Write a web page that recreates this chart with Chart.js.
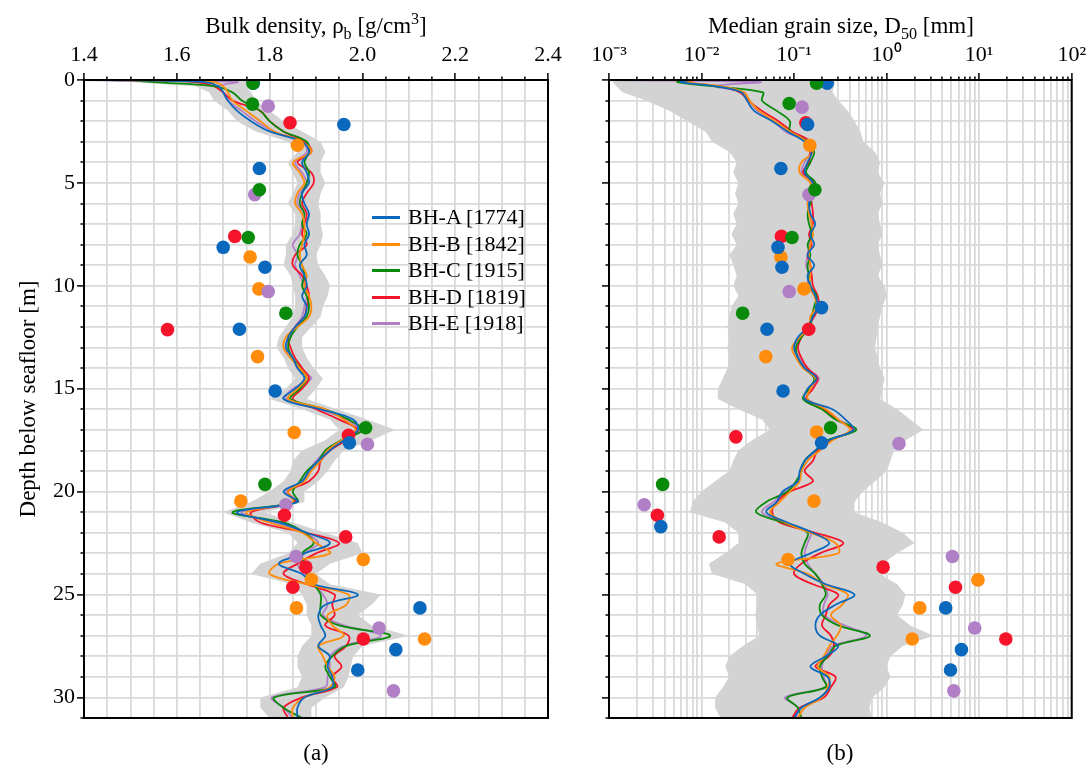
<!DOCTYPE html>
<html lang="en">
<head>
<meta charset="UTF-8">
<title>Bulk density and median grain size profiles</title>
<script src="https://cdn.jsdelivr.net/npm/chart.js"></script>
<style>
  body { margin: 0; background: #fff; font-family: "Liberation Serif", "Times New Roman", serif; color: #000; }
  #wrap { position: relative; width: 1091px; height: 778px; overflow: hidden; }
  #rho-chart { position: absolute; left: 0; top: 0; }
  #d50-chart { position: absolute; left: 570px; top: 0; }
  .axis-title { position: absolute; font-size: 23px; line-height: 26px; white-space: nowrap; transform: translateX(-50%); }
  .axis-title sub, .axis-title sup { font-size: 70%; line-height: 0; }
  .caption { position: absolute; font-size: 23px; line-height: 26px; transform: translateX(-50%); }
  #legend { position: absolute; left: 372px; top: 204px; font-size: 22px; }
  #legend .item { height: 26.5px; line-height: 26.5px; white-space: nowrap; }
  #legend .swatch { display: inline-block; width: 28px; height: 3px; vertical-align: middle; margin-right: 8px; position: relative; top: -1px; }
</style>
</head>
<body>
<div id="wrap">
  <canvas id="rho-chart" width="580" height="778"></canvas>
  <canvas id="d50-chart" width="521" height="778"></canvas>

  <div class="axis-title" style="left:316px; top:13px">Bulk density, &rho;<sub>b</sub> [g/cm<sup>3</sup>]</div>
  <div class="axis-title" style="left:841px; top:13px">Median grain size, D<sub>50</sub> [mm]</div>
  <div id="legend"></div>
  <div class="caption" style="left:316px; top:740px">(a)</div>
  <div class="caption" style="left:840px; top:740px">(b)</div>
</div>

<script>
// ---- data ----
const boreholes = ['BH-A [1774]', 'BH-B [1842]', 'BH-C [1915]', 'BH-D [1819]', 'BH-E [1918]'];
const colors = ['#0a68bd', '#ff8c0a', '#0a8a0a', '#f5142a', '#b07fc6'];

const depth = [0, 0.1, 0.3, 0.6, 1, 1.5, 2, 2.5, 3, 3.5, 4, 4.5, 5, 5.5, 6, 6.5, 7, 7.5, 8, 8.5,
  9, 9.5, 10, 10.5, 11, 11.5, 12, 12.5, 13, 13.5, 14, 14.5, 15, 15.5, 16, 16.5, 17, 17.5, 18, 18.5,
  19, 19.5, 20, 20.5, 21, 21.5, 22, 22.5, 23, 23.5, 24, 24.5, 25, 25.5, 26, 26.5, 27, 27.5, 28, 28.5,
  29, 29.5, 30, 30.5, 31];

// bulk density profiles [g/cm3]
const rhoA = [1.44, 1.66, 1.69, 1.70, 1.71, 1.73, 1.76, 1.80, 1.87, 1.885,
  1.87, 1.88, 1.885, 1.87, 1.875, 1.885, 1.88, 1.885, 1.875, 1.88,
  1.865, 1.875, 1.88, 1.87, 1.88, 1.875, 1.855, 1.84, 1.835, 1.85,
  1.86, 1.875, 1.855, 1.83, 1.91, 1.98, 1.99, 1.96, 1.93, 1.905,
  1.885, 1.87, 1.83, 1.86, 1.73, 1.82, 1.88, 1.93, 1.875, 1.82,
  1.87, 1.895, 1.99, 1.92, 1.905, 1.91, 1.92, 1.905, 1.93, 1.925,
  1.935, 1.935, 1.875, 1.86, 1.86];
const rhoB = [1.48, 1.68, 1.70, 1.71, 1.72, 1.75, 1.78, 1.81, 1.87, 1.89,
  1.85, 1.865, 1.875, 1.86, 1.855, 1.87, 1.875, 1.875, 1.87, 1.865,
  1.87, 1.88, 1.875, 1.885, 1.89, 1.885, 1.86, 1.835, 1.83, 1.845,
  1.865, 1.88, 1.86, 1.84, 1.92, 1.96, 1.985, 1.955, 1.925, 1.91,
  1.89, 1.875, 1.84, 1.85, 1.75, 1.80, 1.87, 1.90, 1.93, 1.82,
  1.80, 1.88, 1.97, 1.965, 1.925, 1.935, 1.96, 1.905, 1.915, 1.925,
  1.94, 1.93, 1.875, 1.85, 1.85];
const rhoC = [1.50, 1.55, 1.68, 1.72, 1.74, 1.78, 1.80, 1.83, 1.88, 1.885,
  1.875, 1.885, 1.88, 1.87, 1.865, 1.875, 1.87, 1.88, 1.865, 1.86,
  1.87, 1.875, 1.87, 1.88, 1.885, 1.88, 1.86, 1.845, 1.84, 1.85,
  1.865, 1.88, 1.865, 1.845, 1.92, 1.97, 2.00, 1.955, 1.92, 1.905,
  1.88, 1.865, 1.85, 1.86, 1.72, 1.83, 1.875, 1.895, 1.87, 1.875,
  1.88, 1.895, 1.91, 1.91, 1.91, 1.95, 2.06, 1.965, 1.935, 1.92,
  1.93, 1.94, 1.81, 1.83, 1.87];
const rhoD = [1.45, 1.64, 1.68, 1.70, 1.72, 1.78, 1.80, 1.83, 1.875, 1.89,
  1.86, 1.89, 1.895, 1.88, 1.87, 1.88, 1.875, 1.87, 1.88, 1.855,
  1.85, 1.87, 1.88, 1.885, 1.88, 1.875, 1.855, 1.84, 1.845, 1.855,
  1.87, 1.885, 1.87, 1.85, 1.90, 1.95, 1.99, 1.965, 1.93, 1.91,
  1.905, 1.885, 1.84, 1.855, 1.76, 1.78, 1.88, 1.95, 1.90, 1.86,
  1.83, 1.88, 1.94, 1.935, 1.94, 1.92, 1.97, 1.965, 1.94, 1.955,
  1.935, 1.945, 1.87, 1.83, 1.84];
const rhoE = [1.40, 1.73, 1.69, 1.70, 1.71, 1.74, 1.77, 1.81, 1.87, 1.88,
  1.855, 1.87, 1.88, 1.865, 1.86, 1.875, 1.87, 1.865, 1.85, 1.86,
  1.855, 1.865, 1.875, 1.88, 1.875, 1.87, 1.855, 1.845, 1.835, 1.85,
  1.86, 1.89, 1.85, 1.835, 1.91, 1.965, 1.995, 1.96, 1.925, 1.90,
  1.885, 1.87, 1.835, 1.855, 1.74, 1.81, 1.875, 1.905, 1.875, 1.86,
  1.875, 1.895, 1.915, 1.925, 1.915, 1.96, 2.04, 1.96, 1.93, 1.93,
  1.925, 1.92, 1.805, 1.83, 1.85];
// grey envelope of all CPT-based profiles
const rhoBandLo = [1.40, 1.50, 1.64, 1.67, 1.68, 1.71, 1.73, 1.77, 1.84, 1.86,
  1.84, 1.85, 1.86, 1.85, 1.84, 1.855, 1.855, 1.85, 1.835, 1.835,
  1.83, 1.845, 1.85, 1.855, 1.855, 1.85, 1.835, 1.82, 1.815, 1.83,
  1.84, 1.855, 1.835, 1.80, 1.87, 1.93, 1.95, 1.92, 1.87, 1.85,
  1.845, 1.83, 1.80, 1.76, 1.70, 1.76, 1.84, 1.86, 1.84, 1.78,
  1.76, 1.85, 1.87, 1.88, 1.88, 1.89, 1.89, 1.87, 1.86, 1.86,
  1.87, 1.86, 1.78, 1.78, 1.80];
const rhoBandHi = [1.76, 1.76, 1.75, 1.76, 1.77, 1.80, 1.83, 1.87, 1.91, 1.92,
  1.91, 1.91, 1.92, 1.91, 1.905, 1.91, 1.91, 1.915, 1.91, 1.90,
  1.905, 1.92, 1.93, 1.925, 1.915, 1.91, 1.89, 1.87, 1.87, 1.88,
  1.895, 1.915, 1.90, 1.88, 1.945, 2.01, 2.07, 2.02, 1.96, 1.94,
  1.925, 1.905, 1.875, 1.875, 1.79, 1.85, 1.92, 1.99, 2.00, 1.93,
  1.90, 1.93, 2.04, 2.02, 1.99, 2.02, 2.10, 2.00, 1.98, 1.975,
  1.97, 1.96, 1.92, 1.89, 1.89];

// median grain size profiles [mm]
const d50A = [0.0075, 0.0060, 0.014, 0.027, 0.031, 0.037, 0.058, 0.085, 0.13, 0.155,
  0.14, 0.13, 0.16, 0.155, 0.145, 0.15, 0.17, 0.15, 0.165, 0.14,
  0.165, 0.14, 0.15, 0.17, 0.18, 0.16, 0.14, 0.11, 0.10, 0.11,
  0.13, 0.175, 0.14, 0.13, 0.26, 0.36, 0.44, 0.24, 0.17, 0.13,
  0.115, 0.11, 0.075, 0.065, 0.05, 0.085, 0.16, 0.24, 0.15, 0.09,
  0.13, 0.22, 0.45, 0.28, 0.19, 0.17, 0.19, 0.30, 0.22, 0.15,
  0.23, 0.24, 0.19, 0.12, 0.10];
const d50B = [0.0085, 0.0065, 0.016, 0.029, 0.033, 0.042, 0.062, 0.09, 0.135, 0.16,
  0.12, 0.115, 0.15, 0.145, 0.14, 0.145, 0.155, 0.16, 0.15, 0.145,
  0.15, 0.15, 0.145, 0.165, 0.175, 0.15, 0.145, 0.115, 0.095, 0.105,
  0.125, 0.17, 0.15, 0.14, 0.22, 0.30, 0.40, 0.26, 0.19, 0.14,
  0.12, 0.115, 0.09, 0.07, 0.055, 0.08, 0.15, 0.28, 0.30, 0.065,
  0.14, 0.21, 0.38, 0.33, 0.25, 0.32, 0.29, 0.24, 0.21, 0.18,
  0.24, 0.23, 0.20, 0.13, 0.11];
const d50C = [0.0070, 0.0055, 0.013, 0.046, 0.045, 0.065, 0.09, 0.09, 0.14, 0.165,
  0.15, 0.135, 0.17, 0.16, 0.15, 0.14, 0.145, 0.155, 0.14, 0.15,
  0.14, 0.145, 0.15, 0.175, 0.165, 0.155, 0.15, 0.12, 0.105, 0.11,
  0.13, 0.165, 0.145, 0.125, 0.20, 0.28, 0.47, 0.23, 0.17, 0.13,
  0.12, 0.105, 0.085, 0.05, 0.039, 0.075, 0.14, 0.13, 0.12, 0.13,
  0.17, 0.20, 0.22, 0.19, 0.20, 0.30, 0.66, 0.28, 0.23, 0.19,
  0.20, 0.22, 0.085, 0.11, 0.12];
const d50D = [0.0080, 0.0060, 0.015, 0.026, 0.032, 0.045, 0.068, 0.095, 0.15, 0.15,
  0.145, 0.125, 0.165, 0.15, 0.155, 0.16, 0.16, 0.145, 0.155, 0.14,
  0.15, 0.155, 0.16, 0.18, 0.185, 0.165, 0.14, 0.12, 0.11, 0.12,
  0.14, 0.18, 0.16, 0.135, 0.21, 0.29, 0.43, 0.25, 0.18, 0.16,
  0.13, 0.16, 0.09, 0.065, 0.058, 0.07, 0.17, 0.34, 0.19, 0.12,
  0.10, 0.16, 0.30, 0.24, 0.22, 0.20, 0.25, 0.27, 0.24, 0.17,
  0.28, 0.25, 0.21, 0.115, 0.095];
const d50E = [0.0011, 0.043, 0.014, 0.028, 0.033, 0.040, 0.060, 0.08, 0.135, 0.15,
  0.13, 0.12, 0.155, 0.15, 0.14, 0.15, 0.155, 0.15, 0.145, 0.14,
  0.135, 0.145, 0.14, 0.17, 0.18, 0.16, 0.145, 0.115, 0.10, 0.115,
  0.135, 0.185, 0.15, 0.14, 0.22, 0.30, 0.45, 0.24, 0.175, 0.14,
  0.12, 0.11, 0.08, 0.06, 0.045, 0.08, 0.15, 0.14, 0.13, 0.14,
  0.17, 0.21, 0.23, 0.21, 0.21, 0.35, 0.60, 0.26, 0.22, 0.20,
  0.21, 0.22, 0.08, 0.11, 0.105];
const d50BandLo = [0.00105, 0.0011, 0.0012, 0.0014, 0.0025, 0.0045, 0.007, 0.011, 0.013, 0.020,
  0.024, 0.022, 0.025, 0.023, 0.025, 0.022, 0.024, 0.021, 0.024, 0.020,
  0.022, 0.024, 0.022, 0.025, 0.021, 0.020, 0.019, 0.020, 0.019, 0.020,
  0.019, 0.017, 0.015, 0.015, 0.025, 0.045, 0.055, 0.035, 0.025, 0.022,
  0.020, 0.014, 0.010, 0.008, 0.0075, 0.018, 0.025, 0.025, 0.018, 0.012,
  0.013, 0.030, 0.040, 0.040, 0.038, 0.040, 0.042, 0.028, 0.020, 0.018,
  0.020, 0.017, 0.014, 0.014, 0.016];
const d50BandHi = [0.25, 0.28, 0.27, 0.26, 0.30, 0.38, 0.45, 0.52, 0.56, 0.75,
  0.85, 0.80, 0.95, 0.85, 0.90, 0.80, 0.85, 0.90, 0.80, 0.85,
  0.90, 0.80, 0.95, 1.0, 0.90, 0.85, 0.80, 0.78, 0.75, 0.80,
  0.85, 0.95, 0.90, 0.85, 1.3, 1.8, 2.5, 1.6, 1.2, 1.1,
  1.0, 0.75, 0.55, 0.45, 0.45, 0.9, 1.5, 2.0, 1.3, 0.90,
  0.85, 1.3, 1.6, 1.5, 1.3, 1.8, 3.2, 1.5, 1.1, 1.0,
  1.1, 0.95, 0.70, 0.65, 0.70];

// laboratory samples: [depth m, value]
const rhoLabA = [[0.15, 1.765], [2.16, 1.96], [4.3, 1.778], [8.13, 1.70], [9.1, 1.79], [12.11, 1.735],
  [15.11, 1.812], [17.63, 1.972], [25.65, 2.124], [27.68, 2.072], [28.67, 1.99]];
const rhoLabB = [[3.17, 1.86], [8.6, 1.758], [10.15, 1.777], [13.44, 1.774], [17.13, 1.853], [20.46, 1.738],
  [23.3, 2.002], [24.27, 1.89], [25.65, 1.858], [27.16, 2.134]];
const rhoLabC = [[0.15, 1.764], [1.17, 1.763], [5.33, 1.778], [7.65, 1.754], [11.33, 1.835], [16.9, 2.007],
  [19.65, 1.79]];
const rhoLabD = [[2.08, 1.844], [7.6, 1.725], [12.13, 1.58], [17.26, 1.97], [21.15, 1.832], [22.2, 1.964],
  [23.67, 1.878], [24.65, 1.85], [27.16, 2.002]];
const rhoLabE = [[1.27, 1.797], [5.57, 1.768], [10.28, 1.797], [17.7, 2.011], [20.64, 1.835], [23.15, 1.857],
  [26.63, 2.036], [29.68, 2.067]];

const d50LabA = [[0.15, 0.228], [2.16, 0.14], [4.3, 0.072], [8.13, 0.067], [9.1, 0.074], [11.06, 0.198],
  [12.11, 0.051], [15.11, 0.076], [17.63, 0.198], [21.7, 0.00363], [25.65, 4.35], [27.68, 6.43], [28.67, 4.9]];
const d50LabB = [[3.17, 0.148], [8.6, 0.072], [10.15, 0.128], [13.44, 0.0495], [17.1, 0.175], [20.46, 0.164],
  [23.3, 0.086], [24.29, 9.7], [25.65, 2.28], [27.16, 1.89]];
const d50LabC = [[0.15, 0.175], [1.14, 0.0885], [5.33, 0.168], [7.65, 0.095], [11.33, 0.0278], [16.9, 0.248],
  [19.65, 0.0038]];
const d50LabD = [[2.08, 0.134], [7.6, 0.073], [12.11, 0.144], [17.34, 0.0235], [21.15, 0.00333], [22.2, 0.0155],
  [23.67, 0.916], [24.65, 5.55], [27.16, 19.4]];
const d50LabE = [[1.32, 0.122], [5.57, 0.145], [10.28, 0.0885], [17.67, 1.36], [20.64, 0.0024], [23.15, 5.14],
  [26.63, 8.95], [29.68, 5.32]];

// tick positions
const depthTicks = [0, 1, 2, 3, 4, 5, 6, 7, 8, 9, 10, 11, 12, 13, 14, 15, 16, 17, 18, 19, 20,
  21, 22, 23, 24, 25, 26, 27, 28, 29, 30, 31];
const rhoTicks = [1.4, 1.45, 1.5, 1.55, 1.6, 1.65, 1.7, 1.75, 1.8, 1.85, 1.9, 1.95,
  2.0, 2.05, 2.1, 2.15, 2.2, 2.25, 2.3, 2.35, 2.4];
const d50Ticks = [0.001, 0.002, 0.003, 0.004, 0.005, 0.006, 0.007, 0.008, 0.009,
  0.01, 0.02, 0.03, 0.04, 0.05, 0.06, 0.07, 0.08, 0.09,
  0.1, 0.2, 0.3, 0.4, 0.5, 0.6, 0.7, 0.8, 0.9,
  1, 2, 3, 4, 5, 6, 7, 8, 9,
  10, 20, 30, 40, 50, 60, 70, 80, 90, 100];
const d50TickLabels = { '-3': '10\u207B\u00B3', '-2': '10\u207B\u00B2', '-1': '10\u207B\u00B9',
  '0': '10\u2070', '1': '10\u00B9', '2': '10\u00B2' };

// ---- helpers ----
const serif = "'Liberation Serif', 'Times New Roman', serif";
const gridColor = '#d9d9d9';

function profile(vals) {
  return depth.map((d, i) => ({ x: vals[i], y: d }));
}
function samples(pairs) {
  return pairs.map(p => ({ x: p[1], y: p[0] }));
}

function buildDatasets(lines, lo, hi, labs) {
  const ds = [];
  // samples on top; list order = reverse drawing order
  [2, 0, 3, 4, 1].forEach(i => {
    ds.push({ type: 'scatter', data: samples(labs[i]), backgroundColor: colors[i],
      borderWidth: 0, pointRadius: 6.8, pointHoverRadius: 6.8, order: 0 });
  });
  lines.forEach((vals, i) => {
    ds.push({ type: 'line', data: profile(vals), borderColor: colors[i], borderWidth: 1.8,
      pointRadius: 0, tension: 0.35, fill: false, order: 1 });
  });
  ds.push({ type: 'line', data: profile(lo), borderWidth: 0, pointRadius: 0, tension: 0,
    fill: false, order: 2 });
  ds.push({ type: 'line', data: profile(hi), borderWidth: 0, pointRadius: 0, tension: 0,
    fill: '-1', backgroundColor: '#d3d3d3', order: 2 });
  return ds;
}

const frame = {
  id: 'frame',
  afterDatasetsDraw(chart) {
    const { ctx, chartArea: a } = chart;
    ctx.save();
    ctx.strokeStyle = '#000';
    ctx.lineWidth = 2;
    ctx.strokeRect(a.left, a.top, a.right - a.left, a.bottom - a.top);
    ctx.restore();
  }
};

function depthAxis(width, showLabels) {
  return {
    type: 'linear', min: 0, max: 31, reverse: true,
    afterBuildTicks: s => { s.ticks = depthTicks.map(v => ({ value: v })); },
    afterFit: s => { s.width = width; },
    ticks: {
      autoSkip: false, padding: 2, color: '#000', font: { family: serif, size: 22 },
      callback: v => (showLabels && v % 5 === 0) ? String(v) : ''
    },
    grid: {
      color: gridColor, lineWidth: 1.8, tickColor: '#000', tickWidth: 1.5, tickLength: 7,
      tickBorderDash: c => (c.tick && c.tick.value % 5 === 0) ? [] : [0, 3.5, 3.5, 60]
    },
    border: { display: false },
    title: showLabels ? { display: true, text: 'Depth below seafloor [m]', color: '#000',
      font: { family: serif, size: 23 }, padding: { top: 15, bottom: 0 } } : { display: false }
  };
}

function baseOptions(xAxis, yAxis, padRight) {
  return {
    responsive: false,
    animation: false,
    indexAxis: 'y',
    events: [],
    layout: { padding: { top: 0, left: 0, right: padRight, bottom: 60 } },
    plugins: {
      legend: { display: false },
      tooltip: { enabled: false },
      filler: { propagate: false, drawTime: 'beforeDatasetsDraw' }
    },
    scales: { x: xAxis, y: yAxis }
  };
}

// ---- (a) bulk density ----
const isRhoMajor = v => Math.abs(v * 5 - Math.round(v * 5)) < 1e-6;
new Chart(document.getElementById('rho-chart'), {
  type: 'line',
  data: { datasets: buildDatasets([rhoA, rhoB, rhoC, rhoD, rhoE], rhoBandLo, rhoBandHi,
    [rhoLabA, rhoLabB, rhoLabC, rhoLabD, rhoLabE]) },
  options: baseOptions({
    type: 'linear', position: 'top', min: 1.4, max: 2.4,
    afterBuildTicks: s => { s.ticks = rhoTicks.map(v => ({ value: v })); },
    afterFit: s => { s.height = 80; },
    ticks: {
      autoSkip: false, maxRotation: 0, padding: 5, color: '#000', font: { family: serif, size: 22 },
      callback: v => isRhoMajor(v) ? v.toFixed(1) : ''
    },
    grid: {
      color: gridColor, lineWidth: 1.8, tickColor: '#000', tickWidth: 1.5, tickLength: 7,
      tickBorderDash: c => (c.tick && isRhoMajor(c.tick.value)) ? [] : [0, 3.5, 3.5, 60]
    },
    border: { display: false }
  }, depthAxis(84, true), 32),
  plugins: [frame]
});

// ---- (b) median grain size ----
const isDecade = v => Math.abs(Math.log10(v) - Math.round(Math.log10(v))) < 1e-9;
new Chart(document.getElementById('d50-chart'), {
  type: 'line',
  data: { datasets: buildDatasets([d50A, d50B, d50C, d50D, d50E], d50BandLo, d50BandHi,
    [d50LabA, d50LabB, d50LabC, d50LabD, d50LabE]) },
  options: baseOptions({
    type: 'logarithmic', position: 'top', min: 0.001, max: 100,
    afterBuildTicks: s => { s.ticks = d50Ticks.map(v => ({ value: v })); },
    afterFit: s => { s.height = 80; },
    ticks: {
      autoSkip: false, maxRotation: 0, padding: 5, color: '#000', font: { family: serif, size: 22 },
      callback: v => isDecade(v) ? d50TickLabels[String(Math.round(Math.log10(v)))] : ''
    },
    grid: {
      color: gridColor, lineWidth: 1.8, tickColor: '#000', tickWidth: 1.5, tickLength: 7,
      tickBorderDash: c => (c.tick && isDecade(c.tick.value)) ? [] : [0, 3.5, 3.5, 60]
    },
    border: { display: false }
  }, depthAxis(39, false), 19),
  plugins: [frame]
});

// ---- legend ----
const legend = document.getElementById('legend');
boreholes.forEach((name, i) => {
  const row = document.createElement('div');
  row.className = 'item';
  const sw = document.createElement('span');
  sw.className = 'swatch';
  sw.style.background = colors[i];
  row.appendChild(sw);
  row.appendChild(document.createTextNode(name));
  legend.appendChild(row);
});
</script>
</body>
</html>
